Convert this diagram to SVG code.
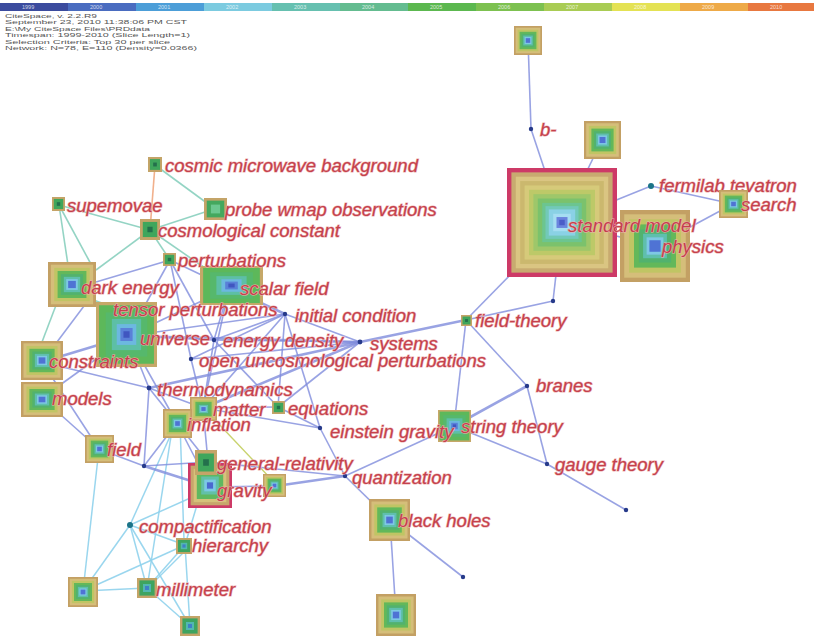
<svg xmlns="http://www.w3.org/2000/svg" xmlns:xlink="http://www.w3.org/1999/xlink" width="814" height="637" viewBox="0 0 814 637">
<style>
.lbl{font-family:"Liberation Sans",Arial,sans-serif;font-style:italic;font-size:18.5px;fill:#c4414c;stroke:#eeb0b0;stroke-width:1.1px;paint-order:stroke;}
.hdr{font-family:"Liberation Sans",Arial,sans-serif;font-size:6px;fill:#555;}
.yr{font-family:"Liberation Sans",Arial,sans-serif;font-size:5.5px;fill:#fff;fill-opacity:0.75;}
.e line{stroke:#7f8cdc;stroke-width:1.6;stroke-opacity:0.8;}
.e line.w{stroke-width:2.6;}
.et line{stroke:#88cfbe;stroke-width:1.6;stroke-opacity:0.9;}
.ec line{stroke:#8fd2ec;stroke-width:1.5;stroke-opacity:0.9;}
.eo{stroke:#f1b08c;stroke-width:1.6;}
.ey{stroke:#c9d36e;stroke-width:1.4;}
.dot{fill:#263a8a;}
.dott{fill:#1b7488;}
</style>
<defs>
<symbol id="ring-full" viewBox="0 0 100 100" preserveAspectRatio="none">
<rect width="100" height="100" fill="#c3a064"/>
<rect x="6" y="6" width="88" height="88" fill="#d5be7a"/>
<rect x="13" y="13" width="74" height="74" fill="#c0c564"/>
<rect x="20" y="20" width="60" height="60" fill="#63b85a"/>
<rect x="27" y="27" width="46" height="46" fill="#52b26e"/>
<rect x="33" y="33" width="34" height="34" fill="#5fbfad"/>
<rect x="38" y="38" width="24" height="24" fill="#7ec8e4"/>
<rect x="42" y="42" width="16" height="16" fill="#4f73d4"/>
</symbol>
<symbol id="ring-sm" viewBox="0 0 100 100" preserveAspectRatio="none">
<rect width="100" height="100" fill="#cd3a67"/>
<rect x="4" y="4" width="92" height="92" fill="#c8aa70"/>
<rect x="8" y="8" width="84" height="84" fill="#dac582"/>
<rect x="12" y="12" width="76" height="76" fill="#cbb86e"/>
<rect x="16" y="16" width="68" height="68" fill="#d6ca7a"/>
<rect x="20" y="20" width="60" height="60" fill="#bdc968"/>
<rect x="24" y="24" width="52" height="52" fill="#9ec76a"/>
<rect x="28" y="28" width="44" height="44" fill="#7bc26c"/>
<rect x="32" y="32" width="36" height="36" fill="#6cc590"/>
<rect x="35" y="35" width="30" height="30" fill="#72c9b8"/>
<rect x="38" y="38" width="24" height="24" fill="#8ad1e5"/>
<rect x="42" y="42" width="16" height="16" fill="#a6ddf2"/>
<rect x="45" y="45" width="10" height="10" fill="#6a84de"/>
<rect x="47.5" y="47.5" width="5" height="5" fill="#4a5cc8"/>
</symbol>
<symbol id="ring-red" viewBox="0 0 100 100" preserveAspectRatio="none">
<rect width="100" height="100" fill="#cd3a67"/>
<rect x="6" y="6" width="88" height="88" fill="#c7a66c"/>
<rect x="13" y="13" width="74" height="74" fill="#d5c27a"/>
<rect x="20" y="20" width="60" height="60" fill="#5fb860"/>
<rect x="30" y="30" width="40" height="40" fill="#62c0a8"/>
<rect x="37" y="37" width="26" height="26" fill="#7cc8e6"/>
<rect x="43" y="43" width="14" height="14" fill="#4a68d0"/>
</symbol>
<symbol id="ring-grad" viewBox="0 0 100 100" preserveAspectRatio="none">
<rect width="100" height="100" fill="#c6a868"/>
<rect x="5" y="5" width="90" height="90" fill="#5db85a"/>
<rect x="16" y="16" width="68" height="68" fill="#56b86c"/>
<rect x="26" y="26" width="48" height="48" fill="#5dbfa6"/>
<rect x="34" y="34" width="32" height="32" fill="#6cb8e0"/>
<rect x="40" y="40" width="20" height="20" fill="#5a80d8"/>
<rect x="45" y="45" width="10" height="10" fill="#4056c0"/>
</symbol>
<symbol id="ring-green" viewBox="0 0 100 100" preserveAspectRatio="none">
<rect width="100" height="100" fill="#c4a468"/>
<rect x="14" y="14" width="72" height="72" fill="#3fa65c"/>
<rect x="37" y="37" width="26" height="26" fill="#24704c"/>
</symbol>
<symbol id="ring-greenl" viewBox="0 0 100 100" preserveAspectRatio="none">
<rect width="100" height="100" fill="#c4a468"/>
<rect x="12" y="12" width="76" height="76" fill="#44a85e"/>
<rect x="30" y="30" width="40" height="40" fill="#6cc890"/>
</symbol>
<symbol id="ring-greenb" viewBox="0 0 100 100" preserveAspectRatio="none">
<rect width="100" height="100" fill="#c4a468"/>
<rect x="12" y="12" width="76" height="76" fill="#3ea460"/>
<rect x="30" y="30" width="40" height="40" fill="#52b7b0"/>
<rect x="40" y="40" width="20" height="20" fill="#3f7fc8"/>
</symbol>
</defs>
<rect width="814" height="637" fill="#ffffff"/>
<g id="legend">
<rect x="0" y="3" width="68" height="8" fill="#3b4b9e"/>
<rect x="68" y="3" width="68" height="8" fill="#4a6cc0"/>
<rect x="136" y="3" width="68" height="8" fill="#4c9ed8"/>
<rect x="204" y="3" width="68" height="8" fill="#7ccbe0"/>
<rect x="272" y="3" width="68" height="8" fill="#66c0b0"/>
<rect x="340" y="3" width="68" height="8" fill="#64bc90"/>
<rect x="408" y="3" width="68" height="8" fill="#5cb84f"/>
<rect x="476" y="3" width="68" height="8" fill="#7dc150"/>
<rect x="544" y="3" width="68" height="8" fill="#a9cc54"/>
<rect x="612" y="3" width="68" height="8" fill="#e4e254"/>
<rect x="680" y="3" width="68" height="8" fill="#eeaa48"/>
<rect x="748" y="3" width="66" height="8" fill="#e87840"/>
<text class="yr" x="22" y="9">1999</text>
<text class="yr" x="90" y="9">2000</text>
<text class="yr" x="158" y="9">2001</text>
<text class="yr" x="226" y="9">2002</text>
<text class="yr" x="294" y="9">2003</text>
<text class="yr" x="362" y="9">2004</text>
<text class="yr" x="430" y="9">2005</text>
<text class="yr" x="498" y="9">2006</text>
<text class="yr" x="566" y="9">2007</text>
<text class="yr" x="634" y="9">2008</text>
<text class="yr" x="702" y="9">2009</text>
<text class="yr" x="770" y="9">2010</text>
<text class="hdr" x="5" y="18" textLength="92" lengthAdjust="spacingAndGlyphs">CiteSpace, v. 2.2.R9</text>
<text class="hdr" x="5" y="24.4" textLength="182" lengthAdjust="spacingAndGlyphs">September 23, 2010 11:38:06 PM CST</text>
<text class="hdr" x="5" y="30.8" textLength="145" lengthAdjust="spacingAndGlyphs">E:\My CiteSpace Files\PRDdata</text>
<text class="hdr" x="5" y="37.2" textLength="185" lengthAdjust="spacingAndGlyphs">Timespan: 1999-2010 (Slice Length=1)</text>
<text class="hdr" x="5" y="43.6" textLength="165" lengthAdjust="spacingAndGlyphs">Selection Criteria: Top 30 per slice</text>
<text class="hdr" x="5" y="50" textLength="192" lengthAdjust="spacingAndGlyphs">Network: N=78, E=110 (Density=0.0366)</text>
</g>
<g id="connectors">
<g class="et">
<line x1="59" y1="205" x2="150" y2="230"/>
<line x1="59" y1="205" x2="68" y2="265"/>
<line x1="59" y1="205" x2="92" y2="266"/>
<line x1="155" y1="165" x2="215" y2="209"/>
<line x1="150" y1="230" x2="96" y2="270"/>
<line x1="150" y1="230" x2="170" y2="260"/>
<line x1="150" y1="230" x2="205" y2="212"/>
<line x1="150" y1="230" x2="205" y2="268"/>
<line x1="58" y1="300" x2="42" y2="342"/>
<line x1="110" y1="306" x2="88" y2="298"/>
</g>
<line class="eo" x1="155" y1="165" x2="150" y2="230"/>
<g class="ec">
<line x1="130" y1="525" x2="185" y2="545"/>
<line x1="130" y1="525" x2="147" y2="588"/>
<line x1="130" y1="525" x2="83" y2="591"/>
<line x1="130" y1="525" x2="190" y2="626"/>
<line x1="130" y1="525" x2="197" y2="495"/>
<line x1="130" y1="525" x2="172" y2="432"/>
<line x1="83" y1="591" x2="185" y2="545"/>
<line x1="83" y1="591" x2="147" y2="588"/>
<line x1="147" y1="588" x2="190" y2="626"/>
<line x1="147" y1="588" x2="185" y2="545"/>
<line x1="150" y1="586" x2="188" y2="548"/>
<line x1="185" y1="545" x2="190" y2="626"/>
<line x1="185" y1="545" x2="197" y2="505"/>
<line x1="180" y1="423" x2="184" y2="540"/>
<line x1="172" y1="430" x2="147" y2="588"/>
<line x1="99" y1="449" x2="83" y2="591"/>
</g>
<line class="ey" x1="215" y1="420" x2="272" y2="480"/>
<g class="e">
<line x1="528" y1="40" x2="531" y2="129"/>
<line x1="531" y1="129" x2="562" y2="222"/>
<line x1="602" y1="140" x2="562" y2="222"/>
<line x1="651" y1="186" x2="562" y2="222"/>
<line x1="651" y1="186" x2="733" y2="204"/>
<line x1="733" y1="204" x2="655" y2="246"/>
<line x1="562" y1="222" x2="655" y2="246"/>
<line x1="562" y1="222" x2="553" y2="301"/>
<line x1="553" y1="301" x2="466" y2="320"/>
<line x1="562" y1="222" x2="466" y2="320"/>
<line class="w" x1="360" y1="342" x2="466" y2="320"/>
<line x1="466" y1="320" x2="454" y2="426"/>
<line x1="466" y1="320" x2="527" y2="386"/>
<line class="w" x1="527" y1="386" x2="454" y2="426"/>
<line x1="527" y1="386" x2="547" y2="464"/>
<line x1="454" y1="426" x2="547" y2="464"/>
<line x1="547" y1="464" x2="626" y2="510"/>
<line x1="454" y1="426" x2="345" y2="476"/>
<line x1="345" y1="476" x2="390" y2="520"/>
<line class="w" x1="345" y1="476" x2="276" y2="486"/>
<line x1="320" y1="428" x2="345" y2="476"/>
<line x1="390" y1="520" x2="396" y2="615"/>
<line x1="390" y1="520" x2="463" y2="577"/>
<line x1="285" y1="314" x2="360" y2="342"/>
<line x1="278" y1="407" x2="320" y2="428"/>
<line x1="170" y1="260" x2="128" y2="336"/>
<line x1="170" y1="260" x2="214" y2="340"/>
<line x1="170" y1="260" x2="229" y2="288"/>
<line x1="170" y1="260" x2="96" y2="282"/>
<line x1="170" y1="260" x2="191" y2="359"/>
<line x1="229" y1="288" x2="128" y2="336"/>
<line class="w" x1="229" y1="288" x2="285" y2="314"/>
<line x1="229" y1="288" x2="214" y2="340"/>
<line x1="229" y1="288" x2="203" y2="408"/>
<line class="w" x1="128" y1="336" x2="42" y2="362"/>
<line x1="128" y1="336" x2="214" y2="340"/>
<line x1="128" y1="336" x2="285" y2="314"/>
<line class="w" x1="128" y1="336" x2="360" y2="342"/>
<line x1="128" y1="336" x2="149" y2="388"/>
<line x1="128" y1="336" x2="177" y2="423"/>
<line x1="128" y1="336" x2="42" y2="398"/>
<line x1="42" y1="362" x2="149" y2="388"/>
<line x1="42" y1="362" x2="99" y2="449"/>
<line x1="42" y1="398" x2="99" y2="449"/>
<line x1="214" y1="340" x2="285" y2="314"/>
<line x1="214" y1="340" x2="360" y2="342"/>
<line x1="214" y1="340" x2="203" y2="408"/>
<line x1="214" y1="340" x2="278" y2="407"/>
<line x1="191" y1="359" x2="360" y2="342"/>
<line x1="191" y1="359" x2="285" y2="314"/>
<line x1="191" y1="359" x2="203" y2="408"/>
<line x1="149" y1="388" x2="177" y2="423"/>
<line x1="149" y1="388" x2="203" y2="408"/>
<line x1="149" y1="388" x2="144" y2="466"/>
<line class="w" x1="149" y1="388" x2="360" y2="342"/>
<line x1="285" y1="314" x2="203" y2="408"/>
<line x1="285" y1="314" x2="278" y2="407"/>
<line x1="285" y1="314" x2="320" y2="428"/>
<line x1="203" y1="408" x2="177" y2="423"/>
<line x1="203" y1="408" x2="208" y2="462"/>
<line class="w" x1="203" y1="408" x2="360" y2="342"/>
<line x1="177" y1="423" x2="144" y2="466"/>
<line x1="177" y1="423" x2="208" y2="462"/>
<line x1="177" y1="423" x2="210" y2="487"/>
<line x1="99" y1="449" x2="144" y2="466"/>
<line class="w" x1="144" y1="466" x2="210" y2="487"/>
<line x1="144" y1="466" x2="208" y2="462"/>
<line x1="208" y1="462" x2="345" y2="476"/>
<line x1="210" y1="487" x2="276" y2="486"/>
<line x1="278" y1="407" x2="360" y2="342"/>
<line x1="278" y1="407" x2="203" y2="408"/>
<line x1="203" y1="408" x2="320" y2="428"/>
<line x1="42" y1="362" x2="96" y2="290"/>
</g>
</g>
<g id="node-top"><use href="#ring-full" x="514" y="26" width="28" height="29"/></g>
<g id="node-602"><use href="#ring-full" x="584" y="121" width="37" height="38"/></g>
<g id="node-physics"><use href="#ring-full" x="620" y="210" width="70" height="72"/><text class="lbl" x="662" y="253">physics</text></g>
<g id="node-standard-model"><use href="#ring-sm" x="507" y="168" width="110" height="109"/><text class="lbl" x="568" y="232">standard model</text></g>
<g id="node-fermilab"><circle class="dott" cx="651" cy="186" r="3"/><text class="lbl" x="659" y="192">fermilab tevatron</text></g>
<g id="node-search"><use href="#ring-full" x="719" y="190" width="29" height="28"/><text class="lbl" x="741" y="211">search</text></g>
<g id="node-b"><circle class="dot" cx="531" cy="129" r="2.2"/><text class="lbl" x="540" y="136">b-</text></g>
<g id="node-553"><circle class="dot" cx="553" cy="301" r="2.2"/></g>
<g id="node-field-theory"><use href="#ring-green" x="461" y="315" width="11" height="11"/><text class="lbl" x="475" y="327">field-theory</text></g>
<g id="node-systems"><circle class="dot" cx="360" cy="342" r="2.4"/><text class="lbl" x="370" y="350">systems</text></g>
<g id="node-initial-condition"><circle class="dot" cx="285" cy="314" r="2.2"/><text class="lbl" x="295" y="322">initial condition</text></g>
<g id="node-branes"><circle class="dot" cx="527" cy="386" r="2.2"/><text class="lbl" x="536" y="392">branes</text></g>
<g id="node-string-theory"><use href="#ring-grad" x="438" y="410" width="33" height="32"/><text class="lbl" x="461" y="433">string theory</text></g>
<g id="node-gauge-theory"><circle class="dot" cx="547" cy="464" r="2.2"/><text class="lbl" x="555" y="471">gauge theory</text></g>
<g id="node-626"><circle class="dot" cx="626" cy="510" r="2.2"/></g>
<g id="node-einstein-gravity"><circle class="dot" cx="320" cy="428" r="2.2"/><text class="lbl" x="330" y="438">einstein gravity</text></g>
<g id="node-quantization"><circle class="dot" cx="345" cy="476" r="2.2"/><text class="lbl" x="352" y="484">quantization</text></g>
<g id="node-black-holes"><use href="#ring-full" x="369" y="499" width="41" height="42"/><text class="lbl" x="398" y="527">black holes</text></g>
<g id="node-463"><circle class="dot" cx="463" cy="577" r="2.2"/></g>
<g id="node-bottom"><use href="#ring-full" x="376" y="594" width="40" height="42"/></g>
<g id="node-cmb"><use href="#ring-green" x="148" y="157" width="14" height="15"/><text class="lbl" x="165" y="172">cosmic microwave background</text></g>
<g id="node-wmap"><use href="#ring-greenl" x="204" y="198" width="23" height="22"/><text class="lbl" x="225" y="216">probe wmap observations</text></g>
<g id="node-cosmological-constant"><use href="#ring-green" x="140" y="219" width="20" height="21"/><text class="lbl" x="158" y="237">cosmological constant</text></g>
<g id="node-supernovae"><use href="#ring-green" x="52" y="197" width="13" height="14"/><text class="lbl" x="67" y="212">supemovae</text></g>
<g id="node-scalar-field"><use href="#ring-grad" x="200" y="266" width="63" height="39"/><text class="lbl" x="240" y="295">scalar field</text></g>
<g id="node-perturbations"><use href="#ring-green" x="163" y="253" width="13" height="13"/><text class="lbl" x="178" y="267">perturbations</text></g>
<g id="node-dark-energy"><use href="#ring-full" x="48" y="262" width="48" height="45"/><text class="lbl" x="81" y="294">dark energy</text></g>
<g id="node-universe"><use href="#ring-grad" x="96" y="302" width="61" height="65"/><text class="lbl" x="113" y="316">tensor perturbations</text><text class="lbl" x="140" y="345">universe</text></g>
<g id="node-energy-density"><circle class="dot" cx="214" cy="340" r="2.2"/><text class="lbl" x="223" y="347">energy density</text></g>
<g id="node-open"><circle class="dot" cx="191" cy="359" r="2.2"/><text class="lbl" x="199" y="367">open uncosmological perturbations</text></g>
<g id="node-constraints"><use href="#ring-full" x="21" y="341" width="42" height="39"/><text class="lbl" x="49" y="368">constraints</text></g>
<g id="node-models"><use href="#ring-full" x="21" y="382" width="42" height="35"/><text class="lbl" x="52" y="405">models</text></g>
<g id="node-thermodynamics"><circle class="dot" cx="149" cy="388" r="2.4"/><text class="lbl" x="157" y="396">thermodynamics</text></g>
<g id="node-matter"><use href="#ring-full" x="190" y="397" width="27" height="24"/><text class="lbl" x="213" y="416">matter</text></g>
<g id="node-equations"><use href="#ring-green" x="272" y="401" width="13" height="13"/><text class="lbl" x="288" y="415">equations</text></g>
<g id="node-inflation"><use href="#ring-full" x="163" y="409" width="29" height="29"/><text class="lbl" x="187" y="431">inflation</text></g>
<g id="node-field"><use href="#ring-full" x="85" y="435" width="29" height="28"/><text class="lbl" x="107" y="456">field</text></g>
<g id="node-144"><circle class="dot" cx="144" cy="466" r="2.2"/></g>
<g id="node-276"><use href="#ring-full" x="263" y="474" width="23" height="23"/></g>
<g id="node-gravity"><use href="#ring-red" x="188" y="463" width="44" height="45"/><text class="lbl" x="217" y="497">gravity</text></g>
<g id="node-general-relativity"><use href="#ring-green" x="195" y="450" width="22" height="25"/><text class="lbl" x="217" y="470">general-relativity</text></g>
<g id="node-compactification"><circle class="dott" cx="130" cy="525" r="3"/><text class="lbl" x="139" y="533">compactification</text></g>
<g id="node-hierarchy"><use href="#ring-greenb" x="176" y="538" width="16" height="16"/><text class="lbl" x="192" y="552">hierarchy</text></g>
<g id="node-83"><use href="#ring-full" x="68" y="577" width="30" height="30"/></g>
<g id="node-millimeter"><use href="#ring-greenb" x="137" y="578" width="20" height="20"/><text class="lbl" x="156" y="596">millimeter</text></g>
<g id="node-190"><use href="#ring-greenb" x="180" y="616" width="20" height="20"/></g>
</svg>
